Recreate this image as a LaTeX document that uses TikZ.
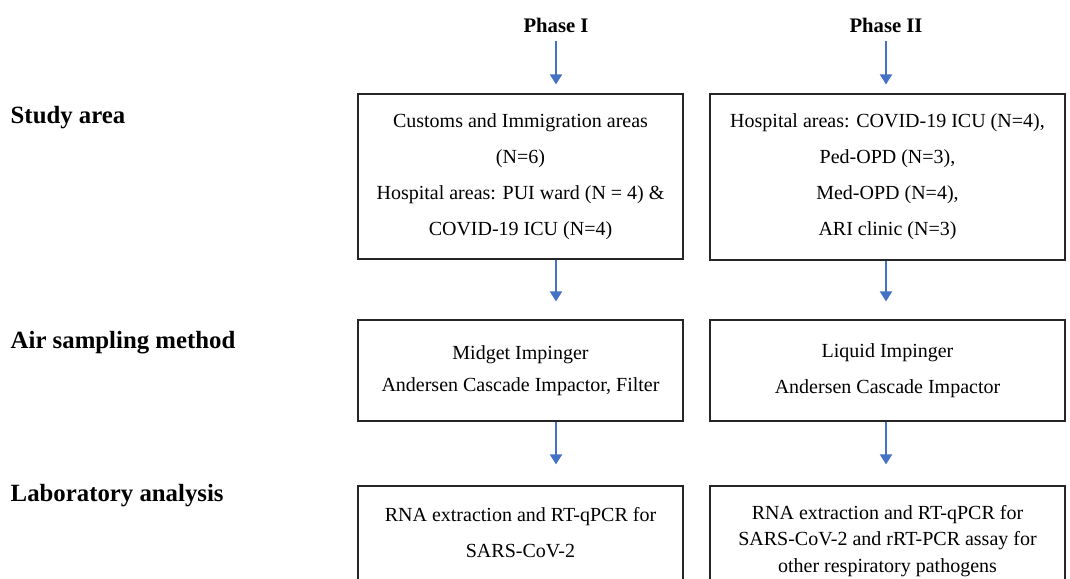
\documentclass[tikz,border=0pt]{standalone}
\usepackage{fontspec}
\setmainfont{Liberation Serif}
\usetikzlibrary{arrows.meta, positioning}
\definecolor{arrowblue}{RGB}{68,114,196}

\begin{document}
\begin{tikzpicture}[x=0.75pt, y=-0.75pt,
        box/.style={rectangle, draw=black!85, line width=0.9pt, align=center,
                    font=\fontsize{15}{27}\selectfont},
        rowlab/.style={anchor=west, font=\fontsize{18.6}{20}\selectfont\bfseries},
        phase/.style={font=\fontsize{15.5}{18}\selectfont\bfseries},
        arr/.style={-{Triangle[length=7.5pt, width=9pt]}, arrowblue, line width=1.5pt}
    ]
        \useasboundingbox (0,0) rectangle (1070,578);
        \clip (0,0) rectangle (1070,578);

        % phases
        \node[phase] (p1) at (556,25) {Phase I};
        \node[phase] (p2) at (886,25) {Phase II};

        % row labels
        \node[rowlab] (lstudy) at (6,118) {Study area};
        \node[rowlab] (lair) at (6,343) {Air sampling method};
        \node[rowlab] (llab) at (6,496) {Laboratory analysis};

        % study area
        \node[box, minimum width=243.75pt, minimum height=123.75pt] (s1) at (520.5,176.5)
            {Customs and Immigration areas\\ (N=6)\\ Hospital areas: PUI ward (N = 4) \&\\ COVID-19 ICU (N=4)};
        \node[box, minimum width=266.25pt, minimum height=124.5pt] (s2) at (887.5,177)
            {Hospital areas: COVID-19 ICU (N=4),\\ Ped-OPD (N=3),\\ Med-OPD (N=4),\\ ARI clinic (N=3)};

        % air sampling
        \node[box, minimum width=243.75pt, minimum height=75.75pt,
              font=\fontsize{15}{24}\selectfont] (m1) at (520.5,370.5)
            {Midget Impinger\\ Andersen Cascade Impactor, Filter};
        \node[box, minimum width=266.25pt, minimum height=75.75pt] (m2) at (887.5,370.5)
            {Liquid Impinger\\ Andersen Cascade Impactor};

        % laboratory
        \node[box, minimum width=243.75pt, minimum height=70.5pt] (a1) at (520.5,533)
            {RNA extraction and RT-qPCR for\\ SARS-CoV-2};
        \node[box, minimum width=266.25pt, minimum height=82.5pt,
              font=\fontsize{15}{20}\selectfont] (a2) at (887.5,541)
            {RNA extraction and RT-qPCR for\\ SARS-CoV-2 and rRT-PCR assay for\\ other respiratory pathogens};

        \draw[arr, shorten <=3pt, shorten >=6.75pt] (p1.south) -- (p1.south |- s1.north);
        \draw[arr, shorten <=3pt, shorten >=6.75pt] (p2.south) -- (p2.south |- s2.north);
        \draw[arr, shorten >=13.5pt] (p1.south |- s1.south) -- (p1.south |- m1.north);
        \draw[arr, shorten >=13.5pt] (p2.south |- s2.south) -- (p2.south |- m2.north);
        \draw[arr, shorten >=15.75pt] (p1.south |- m1.south) -- (p1.south |- a1.north);
        \draw[arr, shorten >=15.75pt] (p2.south |- m2.south) -- (p2.south |- a2.north);
    \end{tikzpicture}
\end{document}
